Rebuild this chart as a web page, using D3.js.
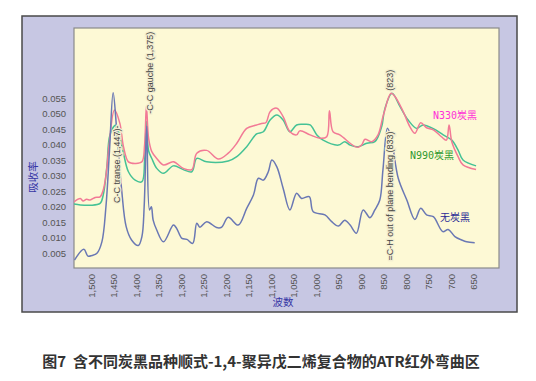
<!DOCTYPE html>
<html><head><meta charset="utf-8">
<script src="https://cdn.jsdelivr.net/npm/d3@7/dist/d3.min.js"></script>
<style>
body{margin:0;background:#fff;}
svg{display:block;}
</style></head>
<body><svg id="c" width="536" height="381"></svg>
<script>
// wavenumber (cm-1) and absorbance readings
const wnBlue = [1537,1516,1507,1498,1487,1476,1467,1459,1451,1443,1432,1422,1410,1395,1387,1382,1378,1376,1370,1366,1362,1354,1339,1317,1310,1298,1287,1274,1265,1258,1243,1221,1210,1195,1173,1154,1139,1128,1117,1106,1098,1087,1073,1058,1043,1032,1015,1006,980,965,950,936,924,910,895,880,869,858,851,841,832,817,798,780,767,754,739,718,706,691,676,665,647];
const absBlue = [0.0028,0.0063,0.0041,0.0043,0.0050,0.0087,0.0200,0.0383,0.0568,0.0448,0.0254,0.0136,0.0093,0.0075,0.0104,0.0200,0.0400,0.0460,0.0190,0.0200,0.0157,0.0125,0.0087,0.0141,0.0131,0.0098,0.0095,0.0082,0.0147,0.0134,0.0152,0.0133,0.0134,0.0166,0.0141,0.0195,0.0238,0.0292,0.0286,0.0313,0.0351,0.0329,0.0260,0.0190,0.0244,0.0227,0.0233,0.0184,0.0174,0.0152,0.0138,0.0157,0.0141,0.0115,0.0190,0.0165,0.0190,0.0222,0.0320,0.0453,0.0416,0.0292,0.0222,0.0159,0.0195,0.0174,0.0168,0.0120,0.0127,0.0104,0.0093,0.0087,0.0084];

const wnN330 = [1538,1524,1518,1510,1502,1491,1480,1473,1467,1460,1448,1436,1428,1417,1402,1387,1381,1377,1372,1365,1354,1339,1317,1295,1276,1265,1243,1217,1195,1176,1154,1132,1121,1111,1102,1087,1073,1058,1043,1036,1013,991,976,970,962,947,924,913,906,898,891,876,862,850,833,824,806,791,780,767,754,739,721,710,704,698,684,673,644];
const absN330 = [0.0216,0.0227,0.0219,0.0224,0.0222,0.0230,0.0232,0.0254,0.0300,0.0400,0.0512,0.0469,0.0394,0.0345,0.0340,0.0345,0.0400,0.0525,0.0420,0.0378,0.0356,0.0335,0.0345,0.0324,0.0320,0.0373,0.0382,0.0354,0.0373,0.0405,0.0453,0.0464,0.0469,0.0472,0.0507,0.0518,0.0491,0.0442,0.0432,0.0445,0.0432,0.0421,0.0426,0.0510,0.0442,0.0432,0.0405,0.0394,0.0392,0.0400,0.0418,0.0410,0.0432,0.0496,0.0566,0.0555,0.0507,0.0458,0.0437,0.0471,0.0455,0.0448,0.0426,0.0415,0.0464,0.0410,0.0362,0.0335,0.0320];

const wnN990 = [1538,1524,1502,1480,1473,1465,1458,1445,1436,1428,1417,1402,1387,1381,1377,1372,1365,1354,1339,1317,1295,1276,1265,1243,1195,1176,1154,1132,1117,1102,1087,1073,1058,1043,1028,1013,998,984,950,936,924,906,887,869,854,847,831,813,795,776,762,739,717,698,684,673,644];
const absN990 = [0.0209,0.0206,0.0205,0.0211,0.0238,0.0329,0.0432,0.0464,0.0426,0.0373,0.0313,0.0286,0.0281,0.0350,0.0475,0.0380,0.0356,0.0324,0.0308,0.0332,0.0320,0.0313,0.0356,0.0345,0.0348,0.0362,0.0394,0.0435,0.0442,0.0480,0.0496,0.0480,0.0442,0.0464,0.0466,0.0464,0.0432,0.0415,0.0399,0.0410,0.0399,0.0394,0.0405,0.0410,0.0458,0.0515,0.0566,0.0523,0.0480,0.0453,0.0464,0.0452,0.0432,0.0415,0.0383,0.0351,0.0332];

const xTicks = [1500,1450,1400,1350,1300,1250,1200,1150,1100,1050,1000,950,900,850,800,750,700,650];
const yTicks = [0.005,0.010,0.015,0.020,0.025,0.030,0.035,0.040,0.045,0.050,0.055];
const seriesNames = ["N330炭黑","N990炭黑","无炭黑"];
const annotations = [
  {text:"C-C transe (1,447)-", wn:1442, v:0.0212},
  {text:"-C-C gauche (1,375)", wn:1369, v:0.0500},
  {text:"(823)", wn:835, v:0.0574},
  {text:"=C-H out of plane bending (833)", wn:836, v:0.0027}
];
const caption = "图7  含不同炭黑品种顺式-1,4-聚异戊二烯复合物的ATR红外弯曲区";

const svg = d3.select("#c");
const P = {l:74, t:28, r:499, b:268};
const x = d3.scaleLinear().domain([1538, 593]).range([P.l, P.r]);
const y = d3.scaleLinear().domain([0, 0.0775]).range([268.8, 28.55]);

// outer frame
svg.append("rect").attr("x",22).attr("y",16).attr("width",495).attr("height",296)
  .attr("fill","#c7c7e3").attr("stroke","#4a4a4a").attr("stroke-width",1.5);
// plot area
svg.append("rect").attr("x",P.l).attr("y",P.t).attr("width",P.r-P.l).attr("height",P.b-P.t)
  .attr("fill","#fdf9d5").attr("stroke","#8a8a8a").attr("stroke-width",1.2);

svg.append("clipPath").attr("id","clip").append("rect")
  .attr("x",P.l).attr("y",P.t).attr("width",P.r-P.l).attr("height",P.b-P.t);

// x axis
const xa = svg.append("g").attr("transform",`translate(0,${P.b})`)
  .call(d3.axisBottom(x).tickValues(xTicks).tickSize(0).tickFormat(d3.format(",")));
xa.select(".domain").remove();
xa.selectAll("text").attr("fill","#555").attr("font-family","Liberation Sans, Arial, sans-serif")
  .attr("font-size","9.5px").attr("text-anchor","end").attr("dy","0.35em")
  .attr("transform","translate(0,6) rotate(-90)").attr("x",0).attr("y",0);

// y axis
const ya = svg.append("g").attr("transform",`translate(${P.l},0)`)
  .call(d3.axisLeft(y).tickValues(yTicks).tickSize(0).tickFormat(d3.format(".3f")));
ya.select(".domain").remove();
ya.selectAll("text").attr("fill","#555").attr("font-family","Liberation Sans, Arial, sans-serif")
  .attr("font-size","9.5px").attr("x",-8);

// axis titles
svg.append("text").attr("x",283).attr("y",306).attr("text-anchor","middle")
  .attr("fill","#3535a5").attr("font-size","10.5px").attr("font-family","Noto Sans CJK SC").text("波数");
svg.append("text").attr("transform","translate(37,177) rotate(-90)").attr("text-anchor","middle")
  .attr("fill","#3535a5").attr("font-size","10.5px").attr("font-family","Noto Sans CJK SC").text("吸收率");

// lines
const line = d3.line().x(d=>x(d[0])).y(d=>y(d[1])).curve(d3.curveCatmullRom.alpha(0.5));
const g = svg.append("g").attr("clip-path","url(#clip)");
const series = [
  {w:wnN990, a:absN990, c:"#45c295"},
  {w:wnN330, a:absN330, c:"#f27a96"},
  {w:wnBlue, a:absBlue, c:"#6a78b4"}
];
series.forEach(s=>{
  g.append("path").datum(s.w.map((w,i)=>[w,s.a[i]]))
    .attr("d",line).attr("fill","none").attr("stroke",s.c).attr("stroke-width",1.5)
    .attr("stroke-linejoin","round");
});

// annotations (rotated, on a pale label halo)
annotations.forEach(a=>{
  svg.append("text").attr("transform",`translate(${x(a.wn)},${y(a.v)}) rotate(-90)`)
    .attr("fill","#444").attr("font-size","9px").attr("dy","0.35em")
    .attr("stroke","#f3eed0").attr("stroke-width",2.5).attr("paint-order","stroke")
    .attr("font-family","Liberation Sans, Arial, sans-serif").text(a.text);
});

// series labels
const lab = [
  {t:seriesNames[0], wn:740, v:0.0496, c:"#ff30d8"},
  {t:seriesNames[1], wn:791, v:0.0367, c:"#2f9a2f"},
  {t:seriesNames[2], wn:724, v:0.0165, c:"#2b2b95"}
];
lab.forEach(l=>{
  svg.append("text").attr("x",x(l.wn)).attr("y",y(l.v)).attr("dy","0.35em")
    .attr("fill",l.c).attr("font-size","10px")
    .attr("font-family","DejaVu Sans Mono, Noto Sans CJK SC").text(l.t);
});

// caption
svg.append("text").attr("x",261).attr("y",362).attr("dy","0.35em").attr("text-anchor","middle")
  .attr("fill","#333").attr("font-weight","bold").attr("font-size","15px")
  .style("white-space","pre")
  .attr("font-family","Noto Sans CJK SC, sans-serif").text(caption);
</script></body></html>
